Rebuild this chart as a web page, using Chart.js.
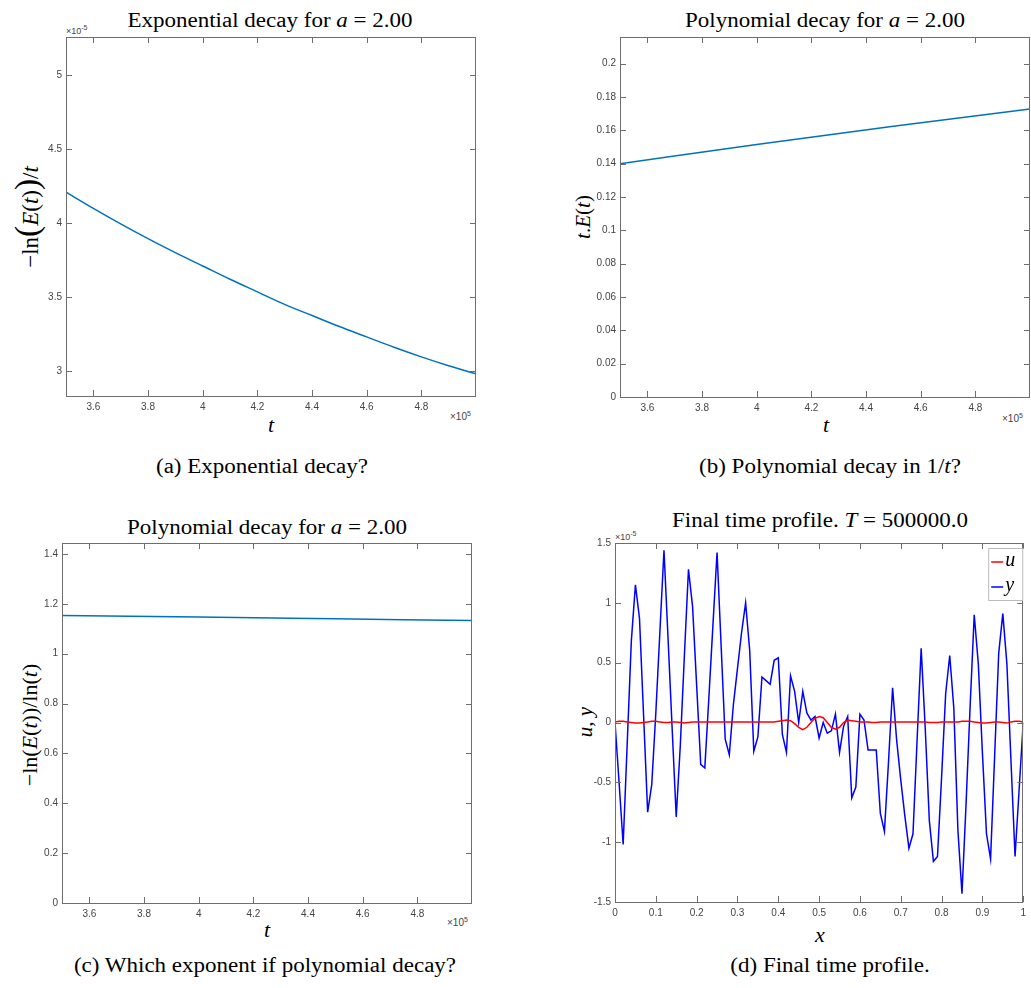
<!DOCTYPE html>
<html>
<head>
<meta charset="utf-8">
<script src="https://cdn.jsdelivr.net/npm/chart.js@4.4.1/dist/chart.umd.min.js"></script>
<style>
  body { margin: 0; background: #fff; width: 1031px; height: 988px; position: relative; overflow: hidden;
         font-family: "Liberation Serif", "Times New Roman", serif; color: #000; }
  .box { position: absolute; }
  .txt { position: absolute; white-space: nowrap; transform: translate(-50%, -50%); }
  .wide { transform: translate(-50%, -50%) scaleX(1.15); }
  .ylab { transform: translate(-50%, -50%) rotate(-90deg); }
  .title { font-size: 20px; }
  .cap { font-size: 20px; }
  .axt { font-size: 22px; font-style: italic; }
  .mult { position: absolute; white-space: nowrap; font-family: "Liberation Sans", Arial, sans-serif; font-size: 9px; color: #444; }
  .mult sup { font-size: 7px; }
  .mult.lg { font-size: 10px; }
  .big { font-size: 1.45em; font-style: normal; }
</style>
</head>
<body>

<div class="txt title wide" style="left:270px;top:20px">Exponential decay for <i>a</i> = 2.00</div>
<div class="txt title wide" style="left:825px;top:20px">Polynomial decay for <i>a</i> = 2.00</div>
<div class="txt title wide" style="left:267px;top:527px">Polynomial decay for <i>a</i> = 2.00</div>
<div class="txt title wide" style="left:820px;top:520px">Final time profile. <i>T</i> = 500000.0</div>

<div class="txt ylab" style="left:27px;top:217px;font-size:23px">&minus;ln<span class="big">(</span><i>E</i>(<i>t</i>)<span class="big">)</span>/<i>t</i></div>
<div class="txt ylab" style="left:583px;top:217px;font-size:21px"><i>t</i>.<i>E</i>(<i>t</i>)</div>
<div class="txt ylab" style="left:30px;top:725px;font-size:22px">&minus;ln(<i>E</i>(<i>t</i>))/ln(<i>t</i>)</div>
<div class="txt ylab" style="left:585px;top:722px;font-size:21px"><i>u</i>, <i>y</i></div>

<div class="txt axt" style="left:271px;top:425px">t</div>
<div class="txt axt" style="left:826px;top:425px">t</div>
<div class="txt axt" style="left:267px;top:930px">t</div>
<div class="txt axt" style="left:820px;top:935px">x</div>

<div class="mult" style="left:66px;top:24px">&times;10<sup>-5</sup></div>
<div class="mult" style="left:615px;top:530px">&times;10<sup>-5</sup></div>
<div class="mult lg" style="left:450px;top:410px">&times;10<sup>5</sup></div>
<div class="mult lg" style="left:1002px;top:412px">&times;10<sup>5</sup></div>
<div class="mult lg" style="left:447px;top:916px">&times;10<sup>5</sup></div>

<div class="txt cap wide" style="left:262px;top:466px">(a) Exponential decay?</div>
<div class="txt cap wide" style="left:830px;top:466px">(b) Polynomial decay in 1/<i>t</i>?</div>
<div class="txt cap wide" style="left:265px;top:965px">(c) Which exponent if polynomial decay?</div>
<div class="txt cap wide" style="left:830px;top:965px">(d) Final time profile.</div>

<script>
// t values are in units of 1e5, rates in units of 1e-5 (as on the axes)
const tExp = [3.5, 3.6, 3.7, 3.8, 3.9, 4.0, 4.1, 4.2, 4.3, 4.4, 4.5, 4.6, 4.7, 4.8, 4.9, 5.0];
const expRate = [4.21, 4.10, 3.995, 3.895, 3.80, 3.71, 3.62, 3.535, 3.45, 3.375, 3.30, 3.23, 3.16, 3.095, 3.035, 2.98];

const tPoly = [3.5, 4.0, 4.5, 5.0];
const tTimesE = [0.140, 0.1515, 0.1625, 0.1728];

const tLog = [3.5, 4.0, 4.5, 5.0];
const logRatio = [1.153, 1.147, 1.140, 1.133];

// final profile, y and u in units of 1e-5
const xGrid = [0, 0.01, 0.02, 0.03, 0.04, 0.05, 0.06, 0.07, 0.08, 0.09,
  0.1, 0.11, 0.12, 0.13, 0.14, 0.15, 0.16, 0.17, 0.18, 0.19,
  0.2, 0.21, 0.22, 0.23, 0.24, 0.25, 0.26, 0.27, 0.28, 0.29,
  0.3, 0.31, 0.32, 0.33, 0.34, 0.35, 0.36, 0.37, 0.38, 0.39,
  0.4, 0.41, 0.42, 0.43, 0.44, 0.45, 0.46, 0.47, 0.48, 0.49,
  0.5, 0.51, 0.52, 0.53, 0.54, 0.55, 0.56, 0.57, 0.58, 0.59,
  0.6, 0.61, 0.62, 0.63, 0.64, 0.65, 0.66, 0.67, 0.68, 0.69,
  0.7, 0.71, 0.72, 0.73, 0.74, 0.75, 0.76, 0.77, 0.78, 0.79,
  0.8, 0.81, 0.82, 0.83, 0.84, 0.85, 0.86, 0.87, 0.88, 0.89,
  0.9, 0.91, 0.92, 0.93, 0.94, 0.95, 0.96, 0.97, 0.98, 0.99, 1];
const yProfile = [0, -0.50, -1.02, -0.17, 0.68, 1.15, 0.87, 0.06, -0.75, -0.52,
  0.08, 0.76, 1.44, 0.70, -0.05, -0.79, -0.19, 0.56, 1.28, 0.97,
  0.31, -0.35, -0.38, 0.21, 0.82, 1.42, 0.64, -0.14, -0.27, 0.15,
  0.45, 0.75, 1.00, 0.60, -0.24, -0.12, 0.38, 0.35, 0.32, 0.52,
  0.54, -0.10, -0.25, 0.39, 0.26, 0.00, 0.26, 0.08, 0.02, 0.05,
  -0.13, 0.00, -0.09, -0.07, 0.07, -0.25, -0.03, 0.05, -0.63, -0.54,
  0.07, 0.02, -0.23, -0.23, -0.23, -0.76, -0.91, -0.33, 0.29, -0.15,
  -0.48, -0.78, -1.05, -0.93, -0.15, 0.62, -0.05, -0.82, -1.16, -1.12,
  -0.46, 0.24, 0.56, 0.12, -0.90, -1.43, -0.68, 0.14, 0.90, 0.49,
  -0.25, -0.93, -1.14, -0.28, 0.58, 0.91, 0.49, -0.32, -1.12, -0.56, 0];
const uProfile = [0.005, 0.01, 0.01, 0.005, 0, -0.005, -0.005, 0, 0.005, 0.01,
  0.01, 0.005, 0, 0, 0.005, 0.005, 0, -0.005, 0, 0.005,
  0.005, 0.005, 0.005, 0.005, 0.005, 0.005, 0.005, 0.005, 0.005, 0.005,
  0.005, 0.005, 0.005, 0.005, 0.005, 0.005, 0.005, 0.005, 0.005, 0.005,
  0.01, 0.015, 0.02, 0.015, -0.01, -0.04, -0.06, -0.04, 0, 0.035,
  0.05, 0.04, 0, -0.04, -0.055, -0.04, 0, 0.02, 0.015, 0.01,
  0.005, 0.005, 0.005, 0, 0, 0.005, 0.005, 0.005, 0.005, 0.005,
  0.005, 0.005, 0.005, 0.005, 0.005, 0.005, 0.005, 0, 0, 0,
  0.005, 0.005, 0.005, 0.005, 0.005, 0.01, 0.01, 0.01, 0.005, 0,
  -0.005, -0.005, 0, 0.005, 0.005, 0, -0.005, 0.005, 0.01, 0.01, 0.005];

// tick labels
const tTicks = [3.6, 3.8, 4.0, 4.2, 4.4, 4.6, 4.8];
const expTicks = [3, 3.5, 4, 4.5, 5];
const tETicks = [0, 0.02, 0.04, 0.06, 0.08, 0.1, 0.12, 0.14, 0.16, 0.18, 0.2];
const logTicks = [0, 0.2, 0.4, 0.6, 0.8, 1, 1.2, 1.4];
const xTicks = [0, 0.1, 0.2, 0.3, 0.4, 0.5, 0.6, 0.7, 0.8, 0.9, 1];
const profTicks = [-1.5, -1, -0.5, 0, 0.5, 1, 1.5];

const MATLAB_BLUE = '#0072BD';
const ML = 60, MT = 12, MB = 30;

// MATLAB-like box with inward ticks on all four sides
const boxPlugin = {
  id: 'box',
  afterDatasetsDraw(chart) {
    const { ctx, chartArea: a, scales } = chart;
    const len = 6;
    ctx.save();
    ctx.strokeStyle = '#6e6e6e';
    ctx.lineWidth = 1;
    ctx.beginPath();
    scales.x.ticks.forEach((t, i) => {
      const px = Math.round(scales.x.getPixelForTick(i)) + 0.5;
      ctx.moveTo(px, a.bottom); ctx.lineTo(px, a.bottom - len);
      ctx.moveTo(px, a.top); ctx.lineTo(px, a.top + len);
    });
    scales.y.ticks.forEach((t, i) => {
      const py = Math.round(scales.y.getPixelForTick(i)) + 0.5;
      ctx.moveTo(a.left, py); ctx.lineTo(a.left + len, py);
      ctx.moveTo(a.right, py); ctx.lineTo(a.right - len, py);
    });
    ctx.stroke();
    ctx.strokeRect(Math.round(a.left) + 0.5, Math.round(a.top) + 0.5,
      Math.round(a.right - a.left) - 1, Math.round(a.bottom - a.top));
    ctx.restore();
  }
};

// legend box drawn inside the top-right corner (panel d)
const innerLegend = {
  id: 'innerLegend',
  afterDraw(chart, args, opts) {
    if (!opts.show) return;
    const { ctx, chartArea: a } = chart;
    const w = 35, h = 53;
    const x0 = a.right - w, y0 = a.top + 5;
    ctx.save();
    ctx.fillStyle = '#fff';
    ctx.fillRect(x0, y0, w, h);
    ctx.strokeStyle = '#bbb';
    ctx.lineWidth = 1;
    ctx.strokeRect(x0 + 0.5, y0 + 0.5, w - 1, h - 1);
    chart.data.datasets.forEach((ds, i) => {
      const cy = y0 + 14 + i * 25;
      ctx.strokeStyle = ds.borderColor;
      ctx.lineWidth = 1.5;
      ctx.beginPath();
      ctx.moveTo(x0 + 3, cy); ctx.lineTo(x0 + 15, cy);
      ctx.stroke();
      ctx.fillStyle = '#000';
      ctx.font = 'italic 20px "Liberation Serif", serif';
      ctx.textBaseline = 'middle';
      ctx.fillText(ds.label, x0 + 17, cy - 1);
    });
    ctx.restore();
  }
};

function fmt(v) { return String(+v.toFixed(4)); }

function makePanel(area, datasets, xr, yr, legend) {
  const mr = area.right >= 1030 ? 1 : 5;
  const div = document.createElement('div');
  div.className = 'box';
  div.style.left = (area.left - ML) + 'px';
  div.style.top = (area.top - MT) + 'px';
  div.style.width = (area.right - area.left + ML + mr) + 'px';
  div.style.height = (area.bottom - area.top + MT + MB) + 'px';
  const canvas = document.createElement('canvas');
  div.appendChild(canvas);
  document.body.appendChild(div);

  const tickFont = { family: '"Liberation Sans", Arial, sans-serif', size: 10 };
  return new Chart(canvas, {
    type: 'line',
    data: { datasets: datasets },
    options: {
      responsive: true,
      maintainAspectRatio: false,
      animation: false,
      layout: { padding: { left: 0, top: MT, right: mr, bottom: 0 } },
      plugins: { legend: { display: false }, tooltip: { enabled: false }, innerLegend: { show: !!legend } },
      elements: { point: { radius: 0 } },
      scales: {
        x: {
          type: 'linear', min: xr.min, max: xr.max,
          afterFit: s => { s.height = MB; },
          afterBuildTicks: s => { s.ticks = xr.ticks.map(v => ({ value: v })); },
          grid: { display: false, drawTicks: false }, border: { display: false },
          ticks: { padding: 5, font: tickFont, color: '#444', maxRotation: 0, autoSkip: false, callback: fmt }
        },
        y: {
          type: 'linear', min: yr.min, max: yr.max,
          afterFit: s => { s.width = ML; },
          afterBuildTicks: s => { s.ticks = yr.ticks.map(v => ({ value: v })); },
          grid: { display: false, drawTicks: false }, border: { display: false },
          ticks: { padding: 4, font: tickFont, color: '#444', autoSkip: false, callback: fmt }
        }
      }
    },
    plugins: [boxPlugin, innerLegend]
  });
}

function pts(xs, ys) { return xs.map((x, i) => ({ x: x, y: ys[i] })); }

// (a)
makePanel({ left: 66, top: 37, right: 476, bottom: 396 },
  [{ data: pts(tExp, expRate), borderColor: MATLAB_BLUE, borderWidth: 1.5, cubicInterpolationMode: 'monotone' }],
  { min: 3.5, max: 5.0, ticks: tTicks }, { min: 2.83, max: 5.26, ticks: expTicks });

// (b)
makePanel({ left: 620, top: 37, right: 1030, bottom: 397 },
  [{ data: pts(tPoly, tTimesE), borderColor: MATLAB_BLUE, borderWidth: 1.5, cubicInterpolationMode: 'monotone' }],
  { min: 3.5, max: 5.0, ticks: tTicks }, { min: 0, max: 0.216, ticks: tETicks });

// (c)
makePanel({ left: 62, top: 543, right: 472, bottom: 903 },
  [{ data: pts(tLog, logRatio), borderColor: MATLAB_BLUE, borderWidth: 1.5, cubicInterpolationMode: 'monotone' }],
  { min: 3.5, max: 5.0, ticks: tTicks }, { min: 0, max: 1.444, ticks: logTicks });

// (d)
makePanel({ left: 615, top: 543, right: 1026, bottom: 902 },
  [
    { label: 'u', data: pts(xGrid, uProfile), borderColor: '#ff0000', borderWidth: 1.5 },
    { label: 'y', data: pts(xGrid, yProfile), borderColor: '#0000ff', borderWidth: 1.5 }
  ],
  { min: 0, max: 1, ticks: xTicks }, { min: -1.5, max: 1.5, ticks: profTicks }, true);
</script>
</body>
</html>
